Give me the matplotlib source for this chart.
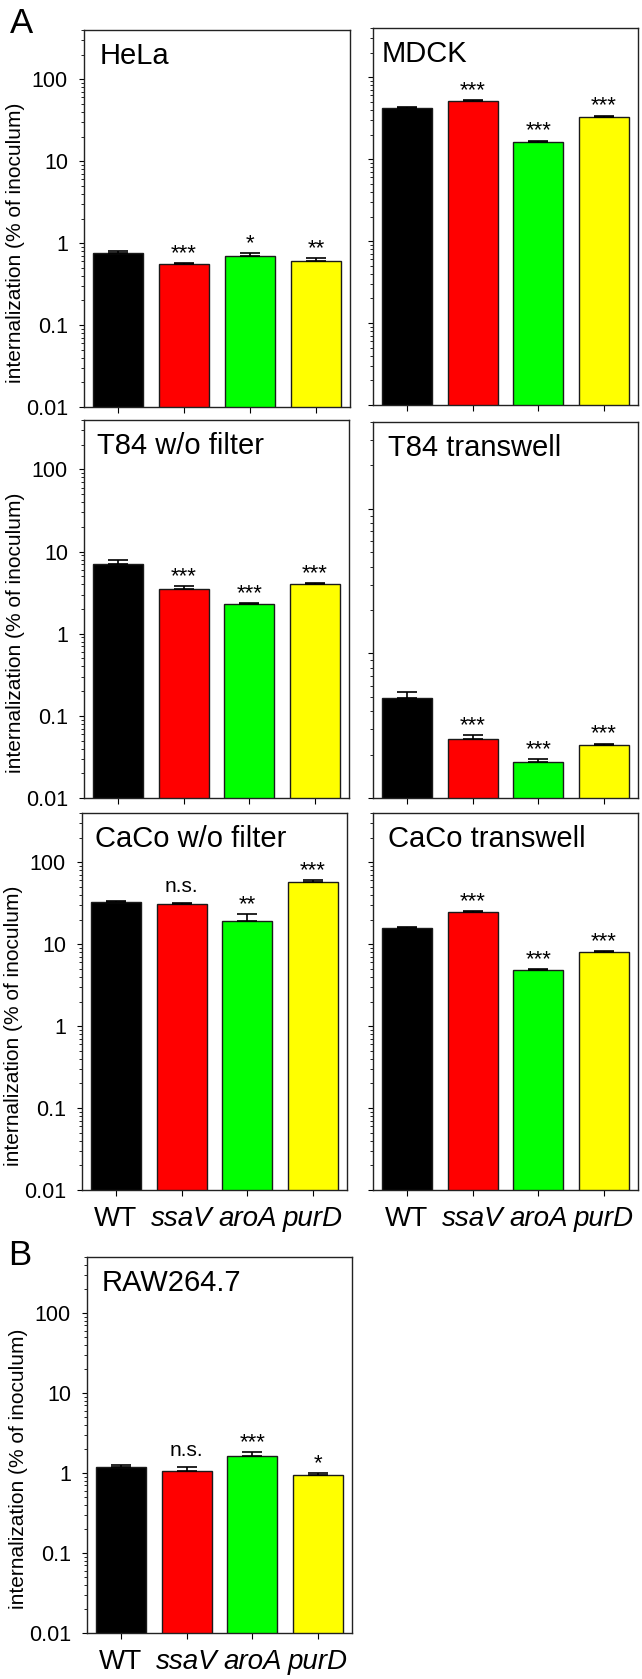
import numpy as np
import matplotlib
matplotlib.use('Agg')
import matplotlib.pyplot as plt
from matplotlib.ticker import LogLocator, FixedLocator, NullFormatter

plt.rcParams['font.family'] = ['Liberation Sans', 'DejaVu Sans']

# strains and bar colours
strains = ['WT', 'ssaV', 'aroA', 'purD']
bar_colors = ['#000000', '#ff0000', '#00ff00', '#ffff00']

# mean internalization (% of inoculum) and upper SD
hela_mean = [0.75, 0.556, 0.695, 0.61]
hela_err = [0.05, 0.014, 0.065, 0.05]
hela_sig = ['', '***', '*', '**']

mdck_mean = [41.9, 51.4, 16.4, 33.2]
mdck_err = [1.6, 1.1, 0.4, 0.8]
mdck_sig = ['', '***', '***', '***']

t84_mean = [7.14, 3.48, 2.28, 4.07]
t84_err = [0.72, 0.30, 0.07, 0.08]
t84_sig = ['', '***', '***', '***']

t84tw_mean = [0.0494, 0.0255, 0.0177, 0.0231]
t84tw_err = [0.0049, 0.0017, 0.0008, 0.0006]
t84tw_sig = ['', '***', '***', '***']

caco_mean = [33.2, 31.0, 19.2, 57.0]
caco_err = [0.9, 0.8, 4.2, 3.3]
caco_sig = ['', 'n.s.', '**', '***']

cacotw_mean = [15.7, 24.8, 4.91, 7.98]
cacotw_err = [0.5, 0.5, 0.07, 0.3]
cacotw_sig = ['', '***', '***', '***']

raw_mean = [1.19, 1.07, 1.64, 0.935]
raw_err = [0.05, 0.12, 0.17, 0.055]
raw_sig = ['', 'n.s.', '***', '*']

W, H = 642, 1679
fig = plt.figure(figsize=(W / 100, H / 100), dpi=100)


def make_axes(left, top, right, bottom):
    # box given in pixels from top-left of the figure
    return fig.add_axes([left / W, 1 - bottom / H, (right - left) / W, (bottom - top) / H])


def panel(ax, title, mean, err, sig, ymax=400, ylabels=True, xlabels=False, title_dx=15):
    x = np.arange(len(strains))
    ax.bar(x, mean, width=0.76, color=bar_colors, edgecolor='#1a1a1a', linewidth=1.0, zorder=2)
    ax.errorbar(x, mean, yerr=[np.zeros(len(mean)), err], fmt='none', ecolor='black',
                elinewidth=1.2, capsize=7.5, capthick=1.2, zorder=3)
    for i, s in enumerate(sig):
        if s == '':
            continue
        top = mean[i] + err[i]
        if s == 'n.s.':
            off = 8
        else:
            off = 3
        ax.annotate(s, xy=(i, top), xytext=(0, off), textcoords='offset points',
                    ha='center', va='baseline', fontsize=16 if s != 'n.s.' else 15)
    ax.set_yscale('log')
    ax.set_ylim(0.01, ymax)
    ax.set_xlim(-0.515, 3.515)
    ax.yaxis.set_major_locator(FixedLocator([0.01, 0.1, 1, 10, 100]))
    ax.yaxis.set_minor_locator(LogLocator(base=10, subs=np.arange(2, 10), numticks=20))
    ax.yaxis.set_minor_formatter(NullFormatter())
    if ylabels:
        ax.set_yticklabels(['0.01', '0.1', '1', '10', '100'])
        ax.set_ylabel('internalization (% of inoculum)', fontsize=15)
        ax.yaxis.set_label_coords(-0.222, 0.436)
    else:
        ax.set_yticklabels([])
    ax.set_xticks(x)
    if xlabels:
        ax.set_xticklabels(strains, fontsize=20)
        for lab in ax.get_xticklabels()[1:]:
            lab.set_style('italic')
    else:
        ax.set_xticklabels([])
    ax.tick_params(axis='y', which='major', direction='out', length=3.6, width=0.8, labelsize=15.5, pad=8)
    ax.tick_params(axis='y', which='minor', direction='out', length=2.2, width=0.6)
    ax.tick_params(axis='x', direction='out', length=4.3, width=0.8, pad=7)
    for sp in ax.spines.values():
        sp.set_linewidth(1.0)
        sp.set_color('#222222')
    ax.text(title_dx / ax.bbox.width, 1 - 34 / ax.bbox.height, title, transform=ax.transAxes,
            fontsize=21, ha='left', va='baseline')


panel(make_axes(84, 30, 350, 407), 'HeLa', hela_mean, hela_err, hela_sig, title_dx=16)
panel(make_axes(373, 28, 638, 405), 'MDCK', mdck_mean, mdck_err, mdck_sig, ylabels=False, title_dx=9)
panel(make_axes(84, 420, 349, 798), 'T84 w/o filter', t84_mean, t84_err, t84_sig, title_dx=13)
panel(make_axes(373, 422, 638, 798), 'T84 transwell', t84tw_mean, t84tw_err, t84tw_sig,
      ymax=4, ylabels=False)
panel(make_axes(82, 813, 347, 1190), 'CaCo w/o filter', caco_mean, caco_err, caco_sig,
      xlabels=True, title_dx=13)
panel(make_axes(373, 813, 638, 1190), 'CaCo transwell', cacotw_mean, cacotw_err, cacotw_sig,
      ylabels=False, xlabels=True)
panel(make_axes(87, 1257, 352, 1633), 'RAW264.7', raw_mean, raw_err, raw_sig, ymax=500,
      xlabels=True, title_dx=15)

# panel letters
fig.text(10 / W, 1 - 33 / H, 'A', fontsize=25, ha='left', va='baseline')
fig.text(8 / W, 1 - 1265 / H, 'B', fontsize=25, ha='left', va='baseline')

fig.savefig('out.png', dpi=100)
